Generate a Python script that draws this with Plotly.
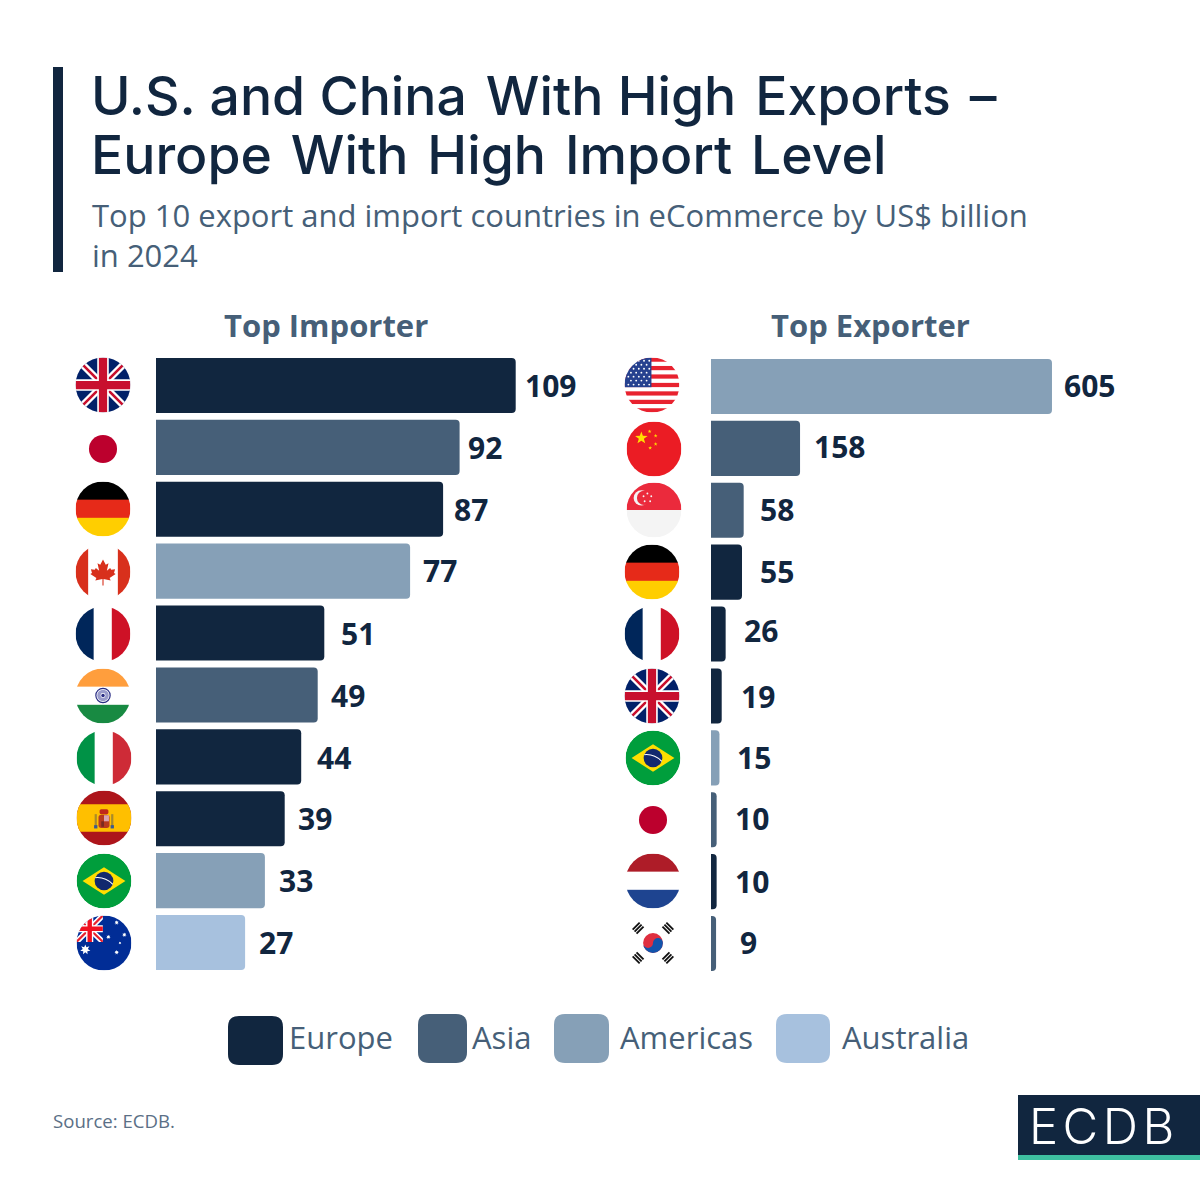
import base64
import math
import plotly.graph_objects as go

# ---------- data ----------
importers = ["United Kingdom", "Japan", "Germany", "Canada", "France", "India", "Italy", "Spain", "Brazil", "Australia"]
import_values = [109, 92, 87, 77, 51, 49, 44, 39, 33, 27]
import_regions = ["Europe", "Asia", "Europe", "Americas", "Europe", "Asia", "Europe", "Europe", "Americas", "Australia"]

exporters = ["United States", "China", "Singapore", "Germany", "France", "United Kingdom", "Brazil", "Japan", "Netherlands", "South Korea"]
export_values = [605, 158, 58, 55, 26, 19, 15, 10, 10, 9]
export_regions = ["Americas", "Asia", "Asia", "Europe", "Europe", "Europe", "Americas", "Asia", "Europe", "Asia"]

regions = ["Europe", "Asia", "Americas", "Australia"]

# ---------- style ----------
W = H = 1200
NAVY = "#11263F"
SLATE = "#465F78"
REGION_COLOR = {"Europe": NAVY, "Asia": SLATE, "Americas": "#86A0B7", "Australia": "#A7C1DE"}
SANS = "Open Sans"
TITLE_FONT = "Inter"

def px(x):
    return x / W

def py(y):
    return 1 - y / H

# ---------- flags (decoration, drawn as inline SVG images) ----------
UK_BODY = (
    '<rect width="100" height="100" fill="#012169"/>'
    '<path d="M0 0L100 100M100 0L0 100" stroke="#fff" stroke-width="13"/>'
    '<path d="M0 0L50 50M100 0L50 50M0 100L50 50M100 100L50 50" stroke="#C8102E" stroke-width="4.5"/>'
    '<path d="M50 0V100M0 50H100" stroke="#fff" stroke-width="21"/>'
    '<path d="M50 0V100M0 50H100" stroke="#C8102E" stroke-width="15"/>'
)

def bands_h(c1, c2, c3):
    return (f'<rect width="100" height="34" fill="{c1}"/>'
            f'<rect y="33" width="100" height="34" fill="{c2}"/>'
            f'<rect y="66" width="100" height="34" fill="{c3}"/>')

def bands_v(c1, c2, c3):
    return (f'<rect width="34" height="100" fill="{c1}"/>'
            f'<rect x="33" width="34" height="100" fill="{c2}"/>'
            f'<rect x="66" width="34" height="100" fill="{c3}"/>')

def star(cx, cy, r, fill="#FFDE00", n=5):
    pts = []
    for i in range(2 * n):
        a = -math.pi / 2 + i * math.pi / n
        rr = r if i % 2 == 0 else r * (0.4 if n == 5 else 0.5)
        pts.append(f"{cx + rr * math.cos(a):.2f},{cy + rr * math.sin(a):.2f}")
    return f'<polygon points="{" ".join(pts)}" fill="{fill}"/>'

def us_flag():
    s = '<rect width="100" height="100" fill="#fff"/>'
    for i in range(0, 13, 2):
        s += f'<rect y="{i * 7.69:.2f}" width="100" height="7.69" fill="#E8222F"/>'
    s += '<rect width="49" height="54" fill="#26418F"/>'
    for r in range(7):
        for c in range(5 if r % 2 == 0 else 4):
            s += f'<circle cx="{7 + c * 9.5 + (4.7 if r % 2 else 0):.1f}" cy="{6 + r * 7.2:.1f}" r="1.7" fill="#fff"/>'
    return s

def china_flag():
    s = '<rect width="100" height="100" fill="#EB1C24"/>' + star(27, 30, 12)
    for cx, cy in [(42, 18), (53, 26), (53, 41), (43, 48)]:
        s += star(cx, cy, 3.6)
    return s

def singapore_flag():
    s = '<rect width="100" height="100" fill="#F4F4F4"/><rect width="100" height="50" fill="#EB2A3C"/>'
    s += '<circle cx="27" cy="28" r="14" fill="#F4F4F4"/><circle cx="32" cy="28" r="13" fill="#EB2A3C"/>'
    for cx, cy in [(38, 20), (45, 25), (43, 34), (33, 34), (31, 25)]:
        s += f'<circle cx="{cx}" cy="{cy}" r="1.7" fill="#F4F4F4"/>'
    return s

def canada_flag():
    leaf = ("50,20 45,31 40,28 43,44 37,38 35,42 28,41 30,49 27,51 38,60 36,65 "
            "49,62 49,76 51,76 51,62 64,65 62,60 73,51 70,49 72,41 65,42 63,38 57,44 60,28 55,31")
    return ('<rect width="100" height="100" fill="#fff"/>'
            '<rect width="23" height="100" fill="#D8301C"/>'
            '<rect x="77" width="23" height="100" fill="#D8301C"/>'
            f'<polygon points="{leaf}" fill="#D8301C" transform="translate(50 51) scale(1 .84) translate(-50 -48)"/>')

def india_flag():
    s = bands_h("#FF9E3D", "#fff", "#188A42")
    s += '<circle cx="50" cy="49" r="13" fill="#fff" stroke="#2B2E85" stroke-width="2.2"/>'
    s += '<circle cx="50" cy="49" r="7.5" fill="none" stroke="#9A9CCB" stroke-width="6"/>'
    s += '<circle cx="50" cy="49" r="3.2" fill="#2B2E85"/>'
    return s

def spain_flag():
    s = ('<rect width="100" height="100" fill="#AD151B"/>'
         '<rect y="25" width="100" height="50" fill="#FFBF00"/>')
    s += '<rect x="40" y="44" width="20" height="24" rx="5" fill="#B83A1E"/>'
    s += '<rect x="50" y="45" width="9" height="11" fill="#D9A3B0"/>'
    s += '<rect x="42" y="34" width="16" height="9" rx="3" fill="#C0281B"/>'
    s += '<rect x="33" y="43" width="4" height="25" fill="#A98B2A"/>'
    s += '<rect x="63" y="43" width="4" height="25" fill="#A98B2A"/>'
    s += '<rect x="45" y="56" width="5" height="10" fill="#7A2A20"/>'
    s += '<rect x="32" y="63" width="6" height="6" fill="#3A5A90"/><rect x="62" y="63" width="6" height="6" fill="#3A5A90"/>'
    return s

def brazil_flag():
    return ('<circle cx="50" cy="50" r="50" fill="#009E3C"/>'
            '<polygon points="11,50 50,25 89,50 50,75" fill="#FFDE00"/>'
            '<circle cx="50" cy="50" r="17" fill="#12296E"/>'
            '<path d="M34 44Q52 42 66 56" fill="none" stroke="#fff" stroke-width="2"/>')

def australia_flag():
    s = '<rect width="100" height="100" fill="#012D96"/>'
    s += ('<clipPath id="c"><rect width="48" height="48"/></clipPath><g clip-path="url(#c)">'
          '<path d="M-2 0L48 48M48 0L0 48" stroke="#fff" stroke-width="10"/>'
          '<path d="M-2 0L48 48M48 0L0 48" stroke="#E8222F" stroke-width="4"/>'
          '<path d="M24 0V48M0 24H48" stroke="#fff" stroke-width="13"/>'
          '<path d="M24 0V48M0 24H48" stroke="#F01020" stroke-width="8"/></g>')
    s += star(16, 62, 9.5, "#fff", 7)
    for cx, cy, r in [(73, 13, 4.2), (58, 39, 4.2), (87, 35, 4.2), (79, 50, 2.6), (73, 67, 4.2)]:
        s += star(cx, cy, r, "#fff", 7)
    return s

def korea_flag():
    s = '<rect width="100" height="100" fill="#fff"/>'
    s += '<circle cx="50" cy="50" r="18" fill="#DF2E3F"/>'
    s += '<path d="M32 50A18 18 0 0 0 68 50A9 9 0 0 0 50 50A9 9 0 0 1 32 50Z" fill="#1254AC"/>'
    for rot in (45, 135, 225, 315):
        s += f'<g transform="rotate({rot} 50 50)">'
        for d in (0, 1, 2):
            s += f'<rect x="41" y="{5 + d * 5}" width="18" height="3.4" fill="#111"/>'
        s += '</g>'
    return s

FLAGS = {
    "United Kingdom": UK_BODY,
    "Japan": '<circle cx="50" cy="50" r="25.5" fill="#BC002D"/>',
    "Germany": bands_h("#000", "#E62A19", "#FFCE00"),
    "Canada": canada_flag(),
    "France": bands_v("#00265A", "#fff", "#CE1126"),
    "India": india_flag(),
    "Italy": bands_v("#009246", "#fff", "#CE2B37"),
    "Spain": spain_flag(),
    "Brazil": brazil_flag(),
    "Australia": australia_flag(),
    "United States": us_flag(),
    "China": china_flag(),
    "Singapore": singapore_flag(),
    "Netherlands": bands_h("#AE1C28", "#fff", "#1E4490"),
    "South Korea": korea_flag(),
}

def flag_uri(name):
    body = FLAGS[name]
    svg = ('<svg xmlns="http://www.w3.org/2000/svg" viewBox="0 0 100 100" width="220" height="220">'
           '<defs><clipPath id="d"><circle cx="50" cy="50" r="50"/></clipPath></defs>'
           f'<g clip-path="url(#d)">{body}</g></svg>')
    return "data:image/svg+xml;base64," + base64.b64encode(svg.encode()).decode()

# placement in page pixels (layout only)
IMPORT_FLAG_POS = [(103, 385), (103, 449), (103, 509), (103, 572), (103, 634),
                   (103, 696), (104, 758), (104, 818), (104, 881), (104, 943)]
EXPORT_FLAG_POS = [(652, 385), (654, 449), (654, 510), (652, 572), (652, 634),
                   (652, 696), (653, 758), (653, 820), (653, 881), (653, 943)]
IMPORT_LABEL_DX = [7, 6, 9, 11, 15, 11, 14, 11, 12, 12]
EXPORT_LABEL_DX = [10, 12, 14, 16, 16, 17, 16, 16, 16, 22]
IMPORT_LABEL_DY = [0, 0, 0, -1, 0, 1, 1, 0, 0, 0]
EXPORT_LABEL_DY = [-1, -2, -1, -1, -4, 1, 0, -1, 0, -1]

FLAG_D = 55

# ---------- figure ----------
fig = go.Figure()
fig.add_trace(go.Bar(
    x=import_values, y=importers, orientation="h", xaxis="x", yaxis="y",
    marker=dict(color=[REGION_COLOR[r] for r in import_regions], line_width=0),
    showlegend=False, hoverinfo="x+y",
))
fig.add_trace(go.Bar(
    x=export_values, y=exporters, orientation="h", xaxis="x2", yaxis="y2",
    marker=dict(color=[REGION_COLOR[r] for r in export_regions], line_width=0),
    showlegend=False, hoverinfo="x+y",
))

images = []
for names, positions in ((importers, IMPORT_FLAG_POS), (exporters, EXPORT_FLAG_POS)):
    for n, (cx, cy) in zip(names, positions):
        images.append(dict(source=flag_uri(n), xref="paper", yref="paper",
                           x=px(cx - FLAG_D / 2), y=py(cy - FLAG_D / 2),
                           sizex=FLAG_D / W, sizey=FLAG_D / H,
                           xanchor="left", yanchor="top", sizing="stretch", layer="above"))

annotations = []

def text(x, y, s, size, color, family=SANS, anchor="left", weight=None):
    f = dict(size=size, color=color, family=family)
    if weight:
        f["weight"] = weight
    annotations.append(dict(text=s, x=px(x), y=py(y), xref="paper", yref="paper", align="left",
                            xanchor=anchor, yanchor="middle", showarrow=False, font=f))

HS = "\u200a"
text(89, 96, f"U.S. and China {HS}With High {HS}Exports {HS}–", 53.5, NAVY, TITLE_FONT, weight=500)
text(89, 155, f"Europe {HS}With {HS}High {HS}Import {HS}Level", 53.5, NAVY, TITLE_FONT, weight=500)
text(90, 234.5, "Top 10 export and import countries in eCommerce by US$ billion<br>in 2024", 31, SLATE)
text(326, 325, "Top Importer", 31, SLATE, anchor="center", weight=700)
text(870, 325, "Top Exporter", 31, SLATE, anchor="center", weight=700)
text(51, 1120, "Source: ECDB.", 18.6, "#5B6F86")
text(1101.5, 1126, f"E{HS}C{HS}D{HS}B", 49, "#FFFFFF", "Inter", anchor="center", weight=300)

for xax, yax, names, vals, dxs, dys in (
    ("x", "y", importers, import_values, IMPORT_LABEL_DX, IMPORT_LABEL_DY),
    ("x2", "y2", exporters, export_values, EXPORT_LABEL_DX, EXPORT_LABEL_DY),
):
    for n, v, dx, dy in zip(names, vals, dxs, dys):
        annotations.append(dict(text=f"<b>{v}</b>", x=v, y=n, xref=xax, yref=yax,
                                xanchor="left", yanchor="middle", xshift=dx, yshift=-dy,
                                showarrow=False, font=dict(size=30, color=NAVY, family=SANS)))

def rounded(x0, y0, x1, y1, r):
    X0, X1, Y0, Y1 = px(x0), px(x1), py(y0), py(y1)
    rx, ry = r / W, r / H
    return (f"M{X0 + rx},{Y0} L{X1 - rx},{Y0} Q{X1},{Y0} {X1},{Y0 - ry} "
            f"L{X1},{Y1 + ry} Q{X1},{Y1} {X1 - rx},{Y1} L{X0 + rx},{Y1} "
            f"Q{X0},{Y1} {X0},{Y1 + ry} L{X0},{Y0 - ry} Q{X0},{Y0} {X0 + rx},{Y0} Z")

LEGEND_BOXES = [(228, 1016, 283, 1065), (418, 1014, 467, 1063), (554, 1014, 609, 1063), (776, 1014, 830, 1063)]
LEGEND_TEXT_X = [287, 470, 618, 840]

shapes = [
    dict(type="rect", xref="paper", yref="paper", x0=px(53), x1=px(63), y0=py(67), y1=py(272),
         fillcolor=NAVY, line_width=0),
    dict(type="rect", xref="paper", yref="paper", x0=px(1018), x1=1, y0=py(1095), y1=py(1155),
         fillcolor=NAVY, line_width=0),
    dict(type="rect", xref="paper", yref="paper", x0=px(1018), x1=1, y0=py(1155), y1=py(1160),
         fillcolor="#3EBFA0", line_width=0),
]
for reg, box, tx in zip(regions, LEGEND_BOXES, LEGEND_TEXT_X):
    shapes.append(dict(type="path", xref="paper", yref="paper", path=rounded(*box, 11),
                       fillcolor=REGION_COLOR[reg], line_width=0))
    text(tx, 1037, reg, 31, SLATE)

fig.update_layout(
    width=W, height=H, margin=dict(l=0, r=0, t=0, b=0, pad=0),
    paper_bgcolor="#FFFFFF", plot_bgcolor="#FFFFFF",
    barcornerradius=4, bargap=0.11, showlegend=False,
    font=dict(family=SANS),
    xaxis=dict(domain=[px(156), px(556)], range=[0, 400 / 3.3], visible=False, fixedrange=True),
    yaxis=dict(domain=[py(973.5), py(354.5)], range=[9.5, -0.5], visible=False,
               type="category", categoryorder="array", categoryarray=importers, fixedrange=True),
    xaxis2=dict(domain=[px(711), px(1111)], range=[0, 400 / 0.5636], visible=False, fixedrange=True),
    yaxis2=dict(domain=[py(974.5), py(355.5)], range=[9.5, -0.5], visible=False,
                type="category", categoryorder="array", categoryarray=exporters, fixedrange=True),
    images=images, annotations=annotations, shapes=shapes,
)

fig.write_html("out.html", config={"displayModeBar": False},
               post_script="document.body.style.margin='0';")
